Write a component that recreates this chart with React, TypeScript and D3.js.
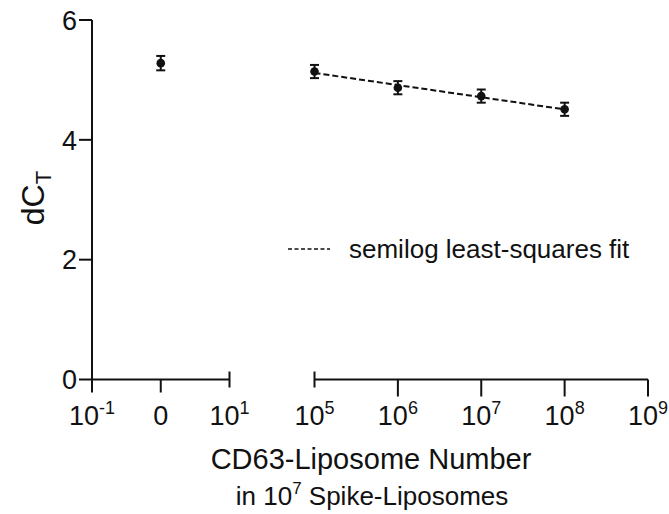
import React from "react";
import * as d3 from "d3";

// Control sample (no CD63-liposomes), plotted at the "0" position of the left axis segment
const controlX = [1];
const controlY = [5.28];
const controlErr = [0.12];

// Titration series: CD63-liposome number vs dC_T
const doseX = [1e5, 1e6, 1e7, 1e8];
const doseY = [5.14, 4.87, 4.73, 4.51];
const doseErr = [0.11, 0.11, 0.11, 0.11];

const yTicks = [0, 2, 4, 6];
const leftTicks = [0.1, 1, 10];
const leftTickLabels = [["10", "-1"], ["0", ""], ["10", "1"]];
const rightTicks = [1e5, 1e6, 1e7, 1e8, 1e9];
const rightTickLabels = [["10", "5"], ["10", "6"], ["10", "7"], ["10", "8"], ["10", "9"]];

const W = 669;
const H = 514;
const FONT = "Liberation Sans, Arial, Helvetica, sans-serif";

export default function App() {
  const y = d3.scaleLinear().domain([0, 6]).range([379.5, 20]);
  const xL = d3.scaleLog().domain([0.1, 10]).range([92, 229.5]);
  const xR = d3.scaleLog().domain([1e5, 1e9]).range([314.5, 648]);
  const axisY = y(0);
  const tick = 13;

  // semilog least-squares fit: y = a + b*log10(x)
  const lx = doseX.map((v) => Math.log10(v));
  const mx = d3.mean(lx) as number;
  const my = d3.mean(doseY) as number;
  const b =
    d3.sum(lx.map((v, i) => (v - mx) * (doseY[i] - my))) /
    d3.sum(lx.map((v) => (v - mx) * (v - mx)));
  const a = my - b * mx;
  const fitLine = d3
    .line<number>()
    .x((v) => xR(v))
    .y((v) => y(a + b * Math.log10(v)));
  const fitX = [doseX[0], doseX[doseX.length - 1]];

  const errBar = (cy: number, e: number, key: string) => {
    const top = y(cy + e);
    const bot = y(cy - e);
    return (
      <g key={key}>
        <line x1={0} x2={0} y1={top} y2={bot} />
        <line x1={-4.5} x2={4.5} y1={top} y2={top} />
        <line x1={-4.5} x2={4.5} y1={bot} y2={bot} />
      </g>
    );
  };

  return (
    <svg width={W} height={H} style={{ position: "absolute", left: 0, top: 0, background: "#fff" }}>
      <g fontFamily={FONT} fill="#111">
        {/* y axis */}
        <g stroke="#111" strokeWidth={2}>
          <line x1={92} x2={92} y1={y(6)} y2={axisY + tick} />
          {yTicks.map((t) => (
            <line key={t} x1={92 - tick} x2={92} y1={y(t)} y2={y(t)} />
          ))}
        </g>
        {yTicks.map((t) => (
          <text key={t} x={77} y={y(t)} dy="0.36em" textAnchor="end" fontSize={27}>
            {t}
          </text>
        ))}

        {/* left x segment */}
        <g stroke="#111" strokeWidth={2}>
          <line x1={xL(0.1)} x2={xL(10)} y1={axisY} y2={axisY} />
          <line x1={xL(1)} x2={xL(1)} y1={axisY} y2={axisY + tick} />
          <line x1={xL(10)} x2={xL(10)} y1={axisY - 8} y2={axisY + 8} />
        </g>
        {leftTicks.map((t, i) => (
          <text key={t} x={xL(t)} y={axisY + 45} textAnchor="middle" fontSize={27}>
            {leftTickLabels[i][0]}
            {leftTickLabels[i][1] && (
              <tspan dy={-11} fontSize={18}>
                {leftTickLabels[i][1]}
              </tspan>
            )}
          </text>
        ))}

        {/* right x segment */}
        <g stroke="#111" strokeWidth={2}>
          <line x1={xR(1e5)} x2={xR(1e9)} y1={axisY} y2={axisY} />
          <line x1={xR(1e5)} x2={xR(1e5)} y1={axisY - 8} y2={axisY + 8} />
          {rightTicks.slice(1).map((t) => (
            <line key={t} x1={xR(t)} x2={xR(t)} y1={axisY} y2={axisY + tick + 4} />
          ))}
        </g>
        {rightTicks.map((t, i) => (
          <text key={t} x={xR(t)} y={axisY + 45} textAnchor="middle" fontSize={27}>
            {rightTickLabels[i][0]}
            <tspan dy={-11} fontSize={18}>
              {rightTickLabels[i][1]}
            </tspan>
          </text>
        ))}

        {/* axis titles */}
        <text x={371} y={469} textAnchor="middle" fontSize={29}>
          CD63-Liposome Number
        </text>
        <text x={372} y={505} textAnchor="middle" fontSize={26}>
          in 10
          <tspan dy={-11} fontSize={17}>7</tspan>
          <tspan dy={11}> Spike-Liposomes</tspan>
        </text>
        <text transform="translate(44,198) rotate(-90)" textAnchor="middle" fontSize={32}>
          dC
          <tspan dy={7} fontSize={22}>T</tspan>
        </text>

        {/* fit line */}
        <path d={fitLine(fitX) ?? ""} fill="none" stroke="#111" strokeWidth={2} strokeDasharray="6 3" />

        {/* error bars and points */}
        <g stroke="#111" strokeWidth={2}>
          {controlX.map((v, i) => (
            <g key={"c" + i} transform={`translate(${xL(v)},0)`}>
              {errBar(controlY[i], controlErr[i], "ce" + i)}
            </g>
          ))}
          {doseX.map((v, i) => (
            <g key={"d" + i} transform={`translate(${xR(v)},0)`}>
              {errBar(doseY[i], doseErr[i], "de" + i)}
            </g>
          ))}
        </g>
        {controlX.map((v, i) => (
          <circle key={"cp" + i} cx={xL(v)} cy={y(controlY[i])} r={4.3} />
        ))}
        {doseX.map((v, i) => (
          <circle key={"dp" + i} cx={xR(v)} cy={y(doseY[i])} r={4.3} />
        ))}

        {/* legend */}
        <line x1={288} x2={330} y1={249} y2={249} stroke="#111" strokeWidth={1.4} strokeDasharray="4 2.5" />
        <text x={349} y={258} fontSize={26}>
          semilog least-squares fit
        </text>
      </g>
    </svg>
  );
}
